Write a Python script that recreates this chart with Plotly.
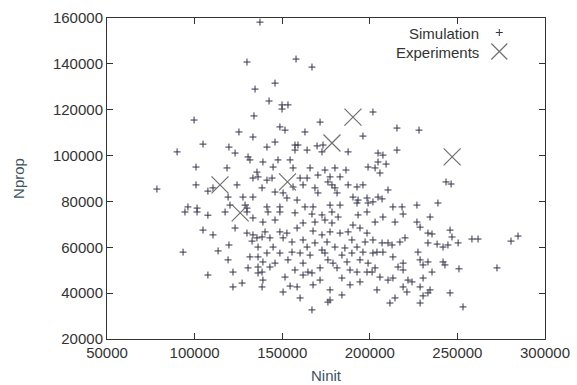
import plotly.graph_objects as go

# ---- Experiments ----
exp_x = [114500, 126000, 153000, 178400, 190400, 247000]
exp_y = [87200, 75000, 88500, 105500, 116800, 99400]

# ---- Simulation ----
sim_x = [
    137300, 129900, 134500, 142500, 99700, 133900, 157900, 167000, 145900, 149900, 153300, 149900, 171600, 201800, 148700,
    125300, 133300, 104800, 90000, 119600, 123100, 130500, 131600, 135600, 100800, 118500, 133300, 136200, 100800, 124200,
    78500, 107600, 110500, 119100, 127600, 133300, 96200, 101400, 120200, 128800, 129900,
    151600, 163000, 196100, 145900, 157300, 159000, 169900, 173300, 141300, 157300, 164200, 172700, 187600, 139000, 147600,
    154500, 144800, 156200, 165900, 174400, 180100, 186400, 199000, 141300, 144200, 160200, 164200, 170400, 177300, 183000,
    156200, 161900, 168700, 176100, 178400, 180100, 187600, 192700, 196100, 138500, 145900, 150500, 152700, 158500, 170400,
    181300, 190400, 193300, 198400, 141300, 148700, 163000, 167600, 177300, 183000, 192700, 199000,
    215500, 228100, 215500, 204700, 207500, 204700, 209300, 203000, 205800, 243500, 246400, 210400, 204700, 207000, 201800,
    238900, 213200, 218400, 226900,
    117400, 129900, 133300, 123100, 129900, 133300, 110500, 135600, 132800, 119600, 136200, 93400, 113400, 119100, 131600,
    136200, 121900, 130500, 136200, 107600, 136200, 127100, 121900, 94500, 101400, 107600, 104800,
    141900, 148700, 157300, 167000, 172700, 178400, 181900, 193300, 198400, 139000, 145900, 161900, 168700, 174400, 178400,
    190400, 140200, 148700, 152700, 158500, 167600, 172700, 177300, 183000, 187600, 194400, 198400, 138500, 143000, 150500,
    155600, 161900, 168700, 175600, 189800, 197300, 144800, 164200, 172700, 180100, 185800, 192700, 141300, 148700, 155600,
    160200, 165900, 174400, 184100, 189800, 196100, 139000, 145900, 153300, 161900, 176100, 179000, 187000, 194400, 199000,
    143000, 157300, 164700, 171600, 181300, 188700, 138500, 139000, 151600, 161900, 167000, 171600, 184100, 192700, 198400,
    188700, 194400, 138500, 154500, 158500, 167600, 177300, 150500, 184100, 160200, 177300, 167000, 176100, 211500, 228700,
    253200,
    203000, 207500, 219000, 234400, 214400, 226900, 228700, 245800, 233200, 235500, 246900, 201800, 220100, 217200, 207000,
    210400, 212700, 233200, 238400, 244600, 250400, 258300, 261800, 241800, 204100, 207500, 201800, 213200, 227500, 219000,
    228700, 233200, 241800, 242900, 203000, 216100, 219000, 230400, 250900, 235500, 201300, 205800, 210400, 213200, 221800,
    224100, 230400, 219000, 204100, 221200, 228700, 234400, 233200, 245800, 230400, 214400,
    280600, 284600, 272600,
]
sim_y = [
    158200, 140800, 129000, 123800, 115500, 117300, 142100, 138600, 131600, 122100, 122100, 120300, 114600, 119000, 112500,
    110300, 108100, 105000, 101600, 103700, 101100, 99400, 98100, 92800, 95000, 94600, 90200, 90700, 87200, 87200,
    85400, 84500, 85900, 81900, 81900, 81900, 77600, 77100, 78400, 78400, 77100,
    111100, 110300, 108500, 105900, 104600, 104600, 104200, 104600, 103700, 102400, 102400, 101600, 101600, 97200, 98100,
    98100, 95000, 94600, 94600, 93700, 94600, 93700, 95000, 89300, 90200, 90200, 90200, 91500, 90700, 90700,
    86300, 87200, 85900, 88500, 87200, 85900, 87200, 86300, 87200, 85900, 84100, 83700, 81500, 80600, 83700,
    83700, 81900, 80600, 81500, 77600, 77600, 77600, 77600, 78400, 78400, 79300, 79300,
    112000, 111100, 102400, 101100, 100200, 97200, 96300, 94600, 92400, 88500, 87600, 85000, 81900, 81100, 79800,
    79300, 77600, 77600, 78400,
    75400, 75400, 72800, 68400, 66200, 65400, 65400, 64100, 62700, 61000, 60100, 57900, 58400, 54500, 55800,
    55800, 49200, 51000, 51400, 47900, 48800, 44400, 42700, 75400, 75400, 74000, 67500,
    75400, 75400, 75000, 74500, 74100, 75400, 73200, 74100, 75400, 71000, 71900, 70600, 71000, 71900, 70600,
    69700, 66700, 66700, 66200, 68400, 67100, 65400, 66700, 66200, 66700, 68400, 66200, 64500, 64100, 64100,
    62300, 63200, 61900, 62300, 63200, 62300, 60100, 60100, 58800, 60100, 59700, 60100, 57500, 57500, 57900,
    57500, 56600, 57500, 56600, 57500, 57900, 53600, 53100, 54500, 53100, 54500, 53100, 53600, 54500, 53100,
    51400, 50100, 49200, 51000, 51000, 50100, 49200, 45700, 47000, 47900, 48800, 45700, 46600, 49200, 49200,
    43600, 44900, 42700, 43100, 42700, 43600, 41400, 40500, 39200, 37900, 37000, 32700, 36100, 35700, 35700,
    34000,
    71000, 73200, 74500, 73200, 71000, 71000, 68800, 67500, 66200, 65800, 64500, 63200, 64100, 62300, 61900,
    61900, 61000, 61900, 61400, 61000, 61900, 63600, 63600, 60100, 57900, 57900, 57500, 55800, 57900, 53100,
    54500, 53600, 53600, 52300, 51000, 51400, 50100, 52300, 50600, 49200, 49200, 47000, 45700, 46600, 45700,
    44900, 46600, 42700, 41400, 40500, 42700, 41400, 40100, 40100, 38800, 37900,
    62700, 64900, 51000,
]
if len(sim_x) != len(sim_y):
    raise SystemExit(f"length mismatch {len(sim_x)} {len(sim_y)}")

x_ticks = [50000, 100000, 150000, 200000, 250000, 300000]
y_ticks = [20000, 40000, 60000, 80000, 100000, 120000, 140000, 160000]
legend_labels = ["Simulation", "Experiments"]

FONT = "Liberation Sans, Arial, sans-serif"
AX = "#333333"
TITLE_C = "#3b5363"

fig = go.Figure()
fig.add_trace(go.Scatter(
    x=sim_x, y=sim_y, mode="markers", name=" ",
    marker=dict(symbol="cross-thin", size=5, color="#34344a",
                line=dict(color="#34344a", width=1)),
))
fig.add_trace(go.Scatter(
    x=exp_x, y=exp_y, mode="markers", name=" ",
    marker=dict(symbol="x-thin", size=17, color="#707070",
                line=dict(color="#707070", width=1.2)),
))

axis_common = dict(
    showgrid=False, zeroline=False, showline=True, mirror="ticks",
    linecolor=AX, linewidth=1, ticks="inside", ticklen=6, tickcolor=AX,
    tickfont=dict(family=FONT, size=15, color=AX), automargin=False,
)
fig.update_xaxes(range=[50000, 300000], tickvals=x_ticks,
                 ticktext=[str(v) for v in x_ticks],
                 title=dict(text="Ninit", font=dict(family=FONT, size=15, color=TITLE_C), standoff=10),
                 **axis_common)
fig.update_yaxes(range=[20000, 160000], tickvals=y_ticks,
                 ticktext=[str(v) for v in y_ticks],
                 title=dict(text="Nprop", font=dict(family=FONT, size=15, color=TITLE_C), standoff=24),
                 **axis_common)

# legend text (gnuplot style: text right-aligned, sample to the right)
for i, lab in enumerate(legend_labels):
    fig.add_annotation(text=lab, xref="paper", yref="paper", x=0.853, y=0.953 - i * 0.059,
                       xanchor="right", yanchor="middle", showarrow=False,
                       font=dict(family=FONT, size=15, color=AX))

fig.update_layout(
    width=577, height=385,
    margin=dict(l=107, r=32, t=18, b=46),
    paper_bgcolor="white", plot_bgcolor="white",
    showlegend=True,
    legend=dict(x=0.85, y=1.0, xanchor="left", yanchor="top",
                bgcolor="rgba(0,0,0,0)", font=dict(family=FONT, size=10),
                tracegroupgap=0, itemwidth=30),
)
fig.write_html("out.html")
